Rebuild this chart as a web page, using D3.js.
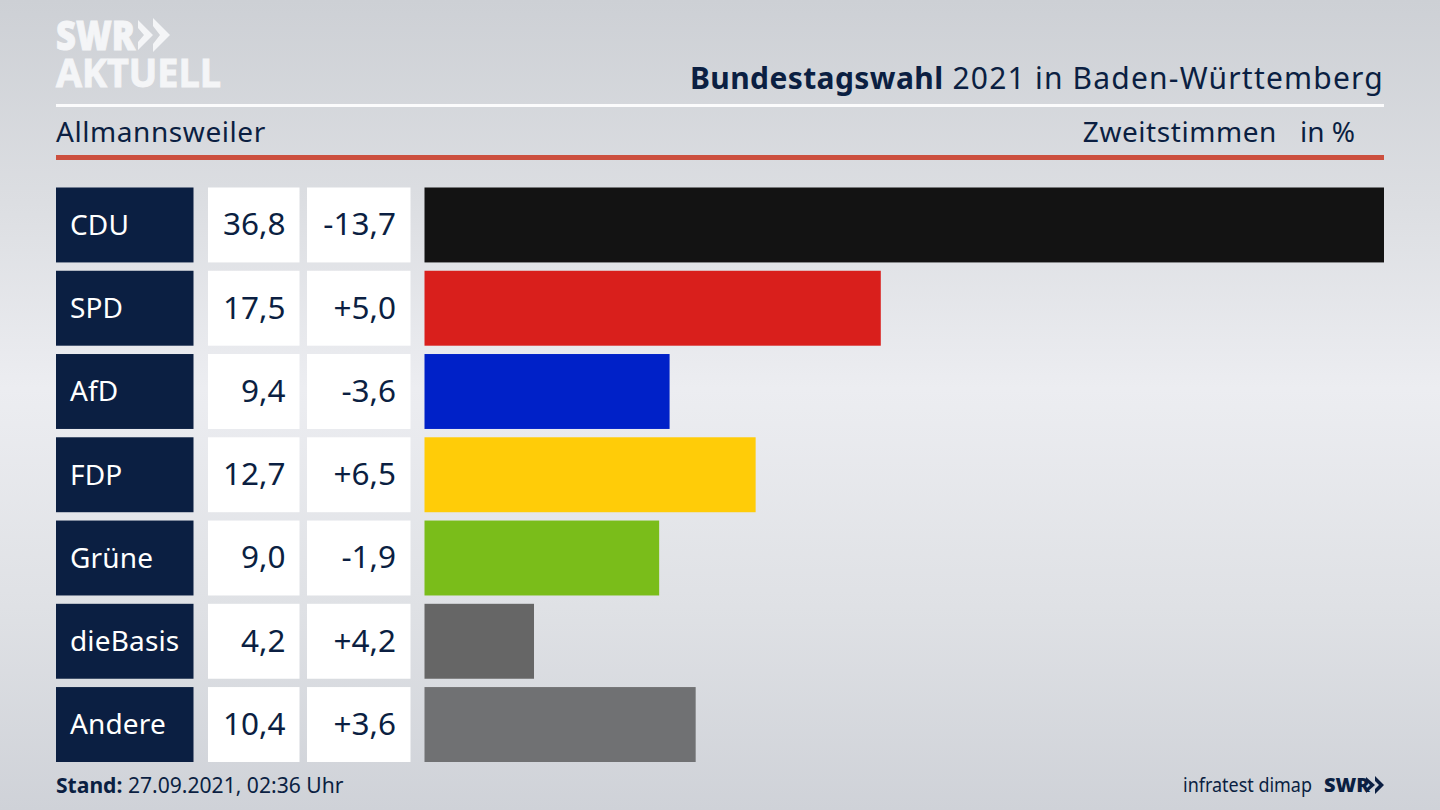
<!DOCTYPE html>
<html>
<head>
<meta charset="utf-8">
<script src="https://d3js.org/d3.v7.min.js"></script>
<style>
    html, body { margin: 0; padding: 0; background: #dfe1e5; overflow: hidden; }
    svg { display: block; }
    text { font-family: "Noto Sans", sans-serif; fill: #0b1f42; }
</style>
</head>
<body>
<script>
    var parties = ['CDU', 'SPD', 'AfD', 'FDP', 'Grüne', 'dieBasis', 'Andere'];
    var shares = [36.8, 17.5, 9.4, 12.7, 9.0, 4.2, 10.4];
    var changes = ['-13,7', '+5,0', '-3,6', '+6,5', '-1,9', '+4,2', '+3,6'];
    var colors = ['#131313', '#d91f1c', '#0021c8', '#ffcc08', '#7abd1a', '#666666', '#707173'];

    var width = 1440, height = 810;
    var navy = '#0b1f42';
    var fmt = d3.format('.1f');

    var svg = d3.select('body').append('svg')
        .attr('width', width)
        .attr('height', height);

    // background, light band in the middle
    var defs = svg.append('defs');
    var grad = defs.append('linearGradient')
        .attr('id', 'bg')
        .attr('x1', 0).attr('y1', 0).attr('x2', 0).attr('y2', 1);
    [[0, '#cdd0d5'], [0.25, '#dcdee2'], [0.48, '#ecedf1'], [0.75, '#dfe1e5'], [1, '#cfd2d8']].forEach(d => {
        grad.append('stop').attr('offset', d[0]).attr('stop-color', d[1]);
    });
    svg.append('rect').attr('width', width).attr('height', height).attr('fill', 'url(#bg)');

    // logo
    var logo = svg.append('g').attr('fill', '#f4f5f7');
    logo.append('text').attr('x', 56).attr('y', 50)
        .style('font-family', '"Open Sans", sans-serif').style('font-weight', 800).style('font-size', '41px')
        .style('fill', '#f4f5f7').style('stroke', '#f4f5f7').style('stroke-width', '1px')
        .attr('textLength', 79).attr('lengthAdjust', 'spacingAndGlyphs').text('SWR');
    logo.append('path').attr('d', 'M138,20 L153,35 L138,50 L138,42 L144,35 L138,28 Z');
    logo.append('path').attr('d', 'M153,18 L170,35 L153,52 L153,44 L160,35 L153,26 Z');
    logo.append('text').attr('x', 56).attr('y', 87)
        .style('font-family', '"Open Sans", sans-serif').style('font-weight', 700).style('font-size', '40px')
        .style('fill', '#f4f5f7').style('stroke', '#f4f5f7').style('stroke-width', '1px')
        .attr('textLength', 165).attr('lengthAdjust', 'spacingAndGlyphs').text('AKTUELL');

    // header
    var title = svg.append('text').attr('x', 1384).attr('y', 89)
        .attr('text-anchor', 'end').style('font-size', '30px');
    title.append('tspan').style('font-weight', 700).style('letter-spacing', '0.4px').text('Bundestagswahl');
    title.append('tspan').style('letter-spacing', '1.2px').text(' 2021 in Baden-Württemberg');

    svg.append('rect').attr('x', 56).attr('y', 104).attr('width', 1328).attr('height', 3).attr('fill', '#fbfbfc');
    svg.append('text').attr('x', 56).attr('y', 142)
        .style('font-size', '28px').style('letter-spacing', '0.57px').text('Allmannsweiler');
    svg.append('text').attr('x', 1277).attr('y', 142).attr('text-anchor', 'end')
        .style('font-size', '28px').style('letter-spacing', '0.57px').text('Zweitstimmen');
    svg.append('text').attr('x', 1355).attr('y', 142).attr('text-anchor', 'end').style('font-size', '28px').text('in %');
    svg.append('rect').attr('x', 56).attr('y', 155).attr('width', 1328).attr('height', 5).attr('fill', '#cc4f3e');

    // rows
    var y = d3.scaleBand().domain(parties).range([187.5, 762]).paddingInner(0.1).paddingOuter(0);
    var x = d3.scaleLinear().domain([0, d3.max(shares)]).range([424.5, 1384]);

    var rows = svg.selectAll('g.row')
        .data(parties)
        .enter().append('g')
        .attr('class', 'row')
        .attr('transform', d => 'translate(0,' + y(d) + ')');

    rows.append('rect').attr('x', 56).attr('width', 137.5).attr('height', y.bandwidth()).attr('fill', navy);
    rows.append('rect').attr('x', 208).attr('width', 91.5).attr('height', y.bandwidth()).attr('fill', '#fff');
    rows.append('rect').attr('x', 307).attr('width', 103.5).attr('height', y.bandwidth()).attr('fill', '#fff');
    rows.append('rect')
        .attr('x', x(0))
        .attr('width', (d, i) => x(shares[i]) - x(0))
        .attr('height', y.bandwidth())
        .attr('fill', (d, i) => colors[i]);

    var base = y.bandwidth() / 2 + 10.5;
    rows.append('text').attr('x', 70).attr('y', base - 0.7)
        .style('font-size', '28px').style('letter-spacing', '0.15px').style('fill', '#fff').text(d => d);
    rows.append('text').attr('x', 285.5).attr('y', base).attr('text-anchor', 'end')
        .style('font-size', '31.5px').text((d, i) => fmt(shares[i]).replace('.', ','));
    rows.append('text').attr('x', 396).attr('y', base).attr('text-anchor', 'end')
        .style('font-size', '31.5px').text((d, i) => changes[i]);

    // footer
    var stand = svg.append('text').attr('x', 56).attr('y', 793).style('font-size', '21.1px');
    stand.append('tspan').style('font-weight', 700).text('Stand:');
    stand.append('tspan').text(' 27.09.2021, 02:36 Uhr');
    svg.append('text').attr('x', 1183).attr('y', 792)
        .style('font-size', '20px').attr('textLength', 129).attr('lengthAdjust', 'spacingAndGlyphs').text('infratest dimap');
    svg.append('text').attr('x', 1324).attr('y', 792)
        .style('font-size', '20px').style('font-weight', 800)
        .style('font-family', '"Open Sans", sans-serif').text('SWR');
    var chev = svg.append('g').attr('fill', navy);
    chev.append('path').attr('d', 'M1366,777 L1375,785 L1366,793 L1366,789 L1370,785 L1366,781 Z');
    chev.append('path').attr('d', 'M1375,776 L1384,785 L1375,794 L1375,789 L1379,785 L1375,781 Z');
</script>
</body>
</html>
